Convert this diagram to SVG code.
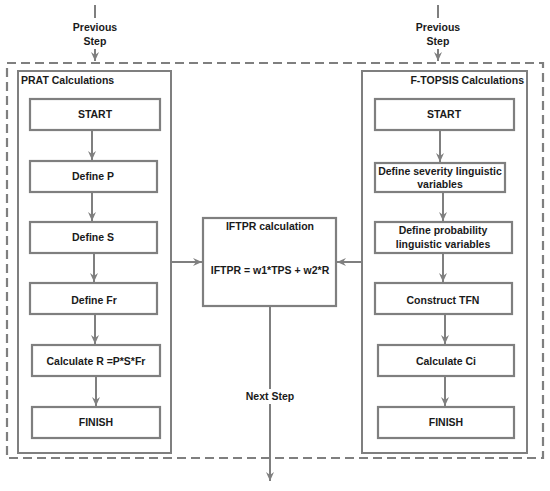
<svg xmlns="http://www.w3.org/2000/svg" width="550" height="491" viewBox="0 0 550 491">
<defs>
<marker id="ah" markerWidth="10" markerHeight="10" refX="9" refY="5" orient="auto" markerUnits="userSpaceOnUse">
<path d="M0,1 L9,5 L0,9 L3,5 Z" fill="#7f7f7f"/>
</marker>
<style>
.box{fill:#fff;stroke:#7f7f7f;stroke-width:2.2}
.frame{fill:none;stroke:#7f7f7f;stroke-width:2}
.dash{fill:none;stroke:#7f7f7f;stroke-width:2.2;stroke-dasharray:9 5}
.ln{fill:none;stroke:#7f7f7f;stroke-width:2;marker-end:url(#ah)}
.ln0{fill:none;stroke:#7f7f7f;stroke-width:2}
text{font-family:"Liberation Sans",Arial,sans-serif;font-weight:bold;font-size:10.5px;fill:#1a1a1a;text-anchor:middle}
.l{text-anchor:start}
.r{text-anchor:end}
</style>
</defs>
<rect width="550" height="491" fill="#fff"/>
<g id="outer"><rect class="dash" x="7" y="63" width="536" height="395"/></g>
<g id="prat"><rect class="frame" x="18" y="71" width="153" height="382"/><text class="l" x="21" y="84">PRAT Calculations</text></g>
<g id="ftopsis"><rect class="frame" x="362" y="71" width="165" height="382"/><text class="r" x="524" y="84">F-TOPSIS Calculations</text></g>
<g id="connectors">
<line class="ln0" x1="95" y1="5" x2="95" y2="18"/>
<line class="ln" x1="95" y1="49" x2="95" y2="61"/>
<line class="ln0" x1="438" y1="5" x2="438" y2="18"/>
<line class="ln" x1="438" y1="49" x2="438" y2="61"/>
<line class="ln" x1="92" y1="130" x2="92" y2="160"/>
<line class="ln" x1="92" y1="192" x2="92" y2="221"/>
<line class="ln" x1="94" y1="253" x2="94" y2="282"/>
<line class="ln" x1="95" y1="314" x2="95" y2="344"/>
<line class="ln" x1="96" y1="376" x2="96" y2="406"/>
<line class="ln" x1="440" y1="130" x2="440" y2="162"/>
<line class="ln" x1="443" y1="192" x2="443" y2="221"/>
<line class="ln" x1="443" y1="253" x2="443" y2="282"/>
<line class="ln" x1="445" y1="314" x2="445" y2="344"/>
<line class="ln" x1="445" y1="376" x2="445" y2="406"/>
<line class="ln" x1="171" y1="262" x2="202" y2="262"/>
<line class="ln" x1="362" y1="262" x2="337" y2="262"/>
<line class="ln0" x1="270" y1="306" x2="270" y2="389"/>
<line class="ln" x1="270" y1="404" x2="270" y2="481"/>
</g>
<g id="prev1"><text x="95" y="31">Previous</text><text x="95" y="45">Step</text></g>
<g id="prev2"><text x="438" y="31">Previous</text><text x="438" y="45">Step</text></g>
<g id="l1"><rect class="box" x="30" y="99" width="130" height="31"/><text x="95" y="118">START</text></g>
<g id="l2"><rect class="box" x="30" y="161" width="127" height="31"/><text x="93" y="180">Define P</text></g>
<g id="l3"><rect class="box" x="30" y="222" width="127" height="31"/><text x="93" y="241">Define S</text></g>
<g id="l4"><rect class="box" x="30" y="283" width="127" height="31"/><text x="94" y="304">Define Fr</text></g>
<g id="l5"><rect class="box" x="32" y="345" width="128" height="31"/><text x="96" y="365">Calculate R =P*S*Fr</text></g>
<g id="l6"><rect class="box" x="32" y="407" width="128" height="31"/><text x="96" y="426">FINISH</text></g>
<g id="r1"><rect class="box" x="375" y="99" width="139" height="31"/><text x="444" y="118">START</text></g>
<g id="r2"><rect class="box" x="375" y="163" width="130" height="29"/><text x="440" y="175">Define severity linguistic</text><text x="440" y="188">variables</text></g>
<g id="r3"><rect class="box" x="375" y="222" width="137" height="31"/><text x="443" y="234">Define probability</text><text x="443" y="248">linguistic variables</text></g>
<g id="r4"><rect class="box" x="375" y="283" width="137" height="31"/><text x="443" y="304">Construct TFN</text></g>
<g id="r5"><rect class="box" x="378" y="345" width="136" height="31"/><text x="446" y="365">Calculate Ci</text></g>
<g id="r6"><rect class="box" x="378" y="407" width="136" height="31"/><text x="446" y="426">FINISH</text></g>
<g id="iftpr"><rect class="box" x="203" y="218" width="133" height="88"/><text x="270" y="230">IFTPR calculation</text><text x="270" y="274">IFTPR = w1*TPS + w2*R</text></g>
<g id="next"><text x="270" y="400">Next Step</text></g>
</svg>
